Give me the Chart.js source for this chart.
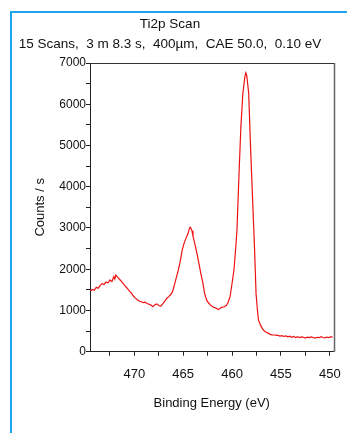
<!DOCTYPE html>
<html>
<head>
<meta charset="utf-8">
<script src="https://cdn.jsdelivr.net/npm/chart.js@4/dist/chart.umd.min.js"></script>
<style>
  html, body { margin: 0; padding: 0; background: #fff; }
  #wrap { position: relative; width: 347px; height: 433px; overflow: hidden; }
  #c { position: absolute; left: 0; top: 0; }
  #bt { position: absolute; left: 10px; top: 11px; width: 337px; height: 2px; background: #1ea5e9; }
  #bl { position: absolute; left: 10px; top: 11px; width: 2px; height: 422px; background: #1ea5e9; }
</style>
</head>
<body>
<div id="wrap">
  <canvas id="c" width="347" height="433"></canvas>
  <div id="bt"></div>
  <div id="bl"></div>
</div>
<script>
const chartTitle = 'Ti2p Scan';
const chartSubtitle = '15 Scans,  3 m 8.3 s,  400\u00b5m,  CAE 50.0,  0.10 eV';
const xAxisTitle = 'Binding Energy (eV)';
const yAxisTitle = 'Counts / s';

const xTickLabels = [470, 465, 460, 455, 450];
const yTickLabels = [0, 1000, 2000, 3000, 4000, 5000, 6000, 7000];

const bindingEnergy = [
  474.5, 474.3, 474.1, 473.9, 473.7, 473.5, 473.3, 473.1, 472.9, 472.7,
  472.5, 472.3, 472.1, 472.0, 471.9, 471.7, 471.5, 471.3, 471.1, 470.9,
  470.7, 470.5, 470.3, 470.1, 469.9, 469.7, 469.5, 469.3, 469.1, 468.9,
  468.7, 468.5, 468.3, 468.1, 467.9, 467.7, 467.5, 467.3, 467.1, 466.9,
  466.7, 466.5, 466.3, 466.1, 465.9, 465.7, 465.5, 465.3, 465.1, 464.9,
  464.7, 464.5, 464.4, 464.3, 464.2, 464.1, 464.0, 463.8, 463.6, 463.4,
  463.2, 463.0, 462.8, 462.6, 462.4, 462.2, 462.0, 461.8, 461.6, 461.4,
  461.2, 461.0, 460.8, 460.6, 460.4, 460.2, 460.0, 459.8, 459.6, 459.5,
  459.3, 459.1, 458.9, 458.7, 458.6, 458.5, 458.3, 458.1, 457.9, 457.7,
  457.55, 457.4, 457.3, 457.1, 456.9, 456.7, 456.5, 456.3, 456.1, 455.9,
  455.7, 455.5, 455.3, 455.1, 454.9, 454.7, 454.5, 454.3, 454.1, 453.9,
  453.7, 453.5, 453.3, 453.1, 452.9, 452.7, 452.5, 452.3, 452.1, 451.9,
  451.7, 451.5, 451.3, 451.1, 450.9, 450.7, 450.5, 450.3, 450.1, 449.9,
  449.7
];
const countsPerSecond = [
  1470, 1510, 1490, 1560, 1540, 1610, 1650, 1630, 1690, 1670,
  1740, 1700, 1820, 1760, 1860, 1800, 1750, 1700, 1640, 1580,
  1530, 1470, 1420, 1350, 1300, 1260, 1230, 1210, 1190, 1200,
  1170, 1150, 1130, 1090, 1140, 1160, 1120, 1100, 1160, 1220,
  1290, 1330, 1380, 1450, 1620, 1800, 1980, 2200, 2470, 2640,
  2760, 2870, 2960, 3020, 2990, 2930, 2800, 2600, 2390, 2150,
  1900, 1680, 1400, 1250, 1180, 1130, 1090, 1070, 1050, 1020,
  1060, 1080, 1090, 1120, 1200, 1340, 1660, 2000, 2600, 2950,
  4250, 5450, 6250, 6650, 6760, 6700, 6270, 4900, 3700, 2500,
  1420, 1000, 770, 650, 560, 500, 470, 450, 420, 410,
  405, 400, 395, 380, 390, 370, 385, 360, 375, 350,
  370, 345, 365, 340, 360, 350, 330, 355, 340, 360,
  345, 330, 350, 340, 365, 345, 335, 355, 340, 365,
  350
];

const points = bindingEnergy.map((e, i) => ({ x: e, y: countsPerSecond[i] }));

const FONT = "'Liberation Sans', Arial, sans-serif";

const decorPlugin = {
  id: 'decor',
  afterDraw(chart) {
    const { ctx, chartArea: { left, top, right, bottom } } = chart;
    ctx.save();
    ctx.lineWidth = 1;
    ctx.strokeStyle = '#333';
    ctx.beginPath();
    ctx.moveTo(left, Math.round(top) + 0.5);
    ctx.lineTo(Math.round(right) + 0.5, Math.round(top) + 0.5);
    ctx.stroke();
    ctx.strokeStyle = '#666';
    ctx.lineWidth = 1.5;
    ctx.beginPath();
    ctx.moveTo(Math.round(right) + 0.5, Math.round(top));
    ctx.lineTo(Math.round(right) + 0.5, bottom);
    ctx.stroke();
    ctx.fillStyle = '#111';
    ctx.textAlign = 'center';
    ctx.textBaseline = 'middle';
    ctx.font = '13.5px ' + FONT;
    ctx.fillText(chartTitle, 170, 24.5);
    ctx.fillText(chartSubtitle, 170, 44);
    ctx.restore();
  }
};

new Chart(document.getElementById('c'), {
  type: 'line',
  data: {
    datasets: [{
      data: points,
      borderColor: '#ee1111',
      borderWidth: 1.2,
      pointRadius: 0,
      tension: 0,
      fill: false
    }]
  },
  options: {
    responsive: false,
    animation: false,
    devicePixelRatio: 1,
    layout: { padding: { left: 0, top: 63, right: 13.5, bottom: 0 } },
    plugins: { legend: { display: false }, tooltip: { enabled: false } },
    scales: {
      x: {
        type: 'linear',
        reverse: true,
        min: 449.62,
        max: 474.54,
        afterFit: (s) => { s.height = 81.3; s.paddingLeft = 0; s.paddingRight = 0; },
        border: { color: '#222', width: 1 },
        grid: { drawOnChartArea: false, tickLength: 4, color: '#222' },
        ticks: {
          stepSize: 2.5,
          includeBounds: false,
          autoSkip: false,
          maxRotation: 0,
          padding: 10.5,
          color: '#111',
          font: { family: FONT, size: 13 },
          callback: (v) => xTickLabels.includes(Math.round(v * 10) / 10) ? String(v) : ''
        },
        title: {
          display: true,
          text: xAxisTitle,
          color: '#111',
          font: { family: FONT, size: 13 },
          padding: { top: 0, bottom: 21.5 }
        }
      },
      y: {
        type: 'linear',
        min: 0,
        max: 7000,
        afterFit: (s) => { s.width = 90; s.paddingTop = 0; s.paddingBottom = 0; },
        border: { color: '#222', width: 1 },
        grid: { drawOnChartArea: false, tickLength: 4, color: '#222' },
        ticks: {
          stepSize: 500,
          autoSkip: false,
          padding: 0,
          color: '#111',
          font: { family: FONT, size: 12 },
          callback: (v) => yTickLabels.includes(v) ? String(v) : ''
        },
        title: {
          display: true,
          text: yAxisTitle,
          color: '#111',
          font: { family: FONT, size: 13 },
          padding: { top: 33, bottom: 0 }
        }
      }
    }
  },
  plugins: [decorPlugin]
});
</script>
</body>
</html>
